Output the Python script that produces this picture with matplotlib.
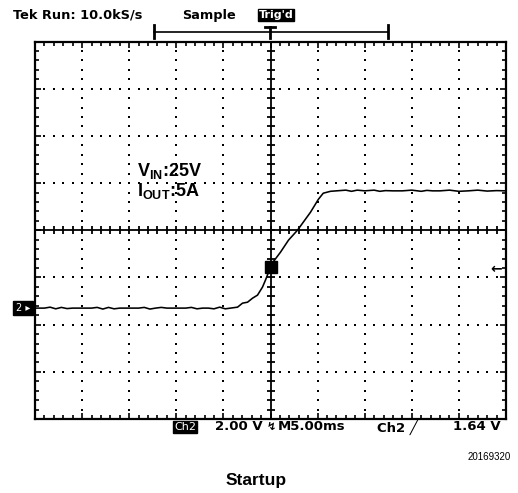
import numpy as np
import matplotlib
matplotlib.use("Agg")
import matplotlib.pyplot as plt
from matplotlib.lines import Line2D

plt.rcParams['font.family'] = ['Liberation Sans', 'DejaVu Sans']
plt.rcParams['mathtext.fontset'] = 'custom'
plt.rcParams['mathtext.bf'] = 'Liberation Sans:bold'
plt.rcParams['mathtext.rm'] = 'Liberation Sans:bold'

# scope settings
ms_per_div = 5.0
v_per_div = 2.0
ground_div = -1.65      # ch2 ground marker, divisions below centre
trig_level = 1.64       # V

# Ch2 trace (time in ms from trigger, volts above ground)
time_ms = [-25.0, -24.0, -23.4, -22.8, -22.2, -21.6, -21.0, -20.0, -19.0, -18.4,
           -17.8, -17.2, -16.6, -16.0, -15.0, -14.0, -13.4, -12.8, -12.2, -11.6,
           -11.0, -10.0, -9.0, -8.4, -7.8, -7.2, -6.6, -6.0, -5.4, -4.8, -4.24,
           -3.5, -2.97, -2.44, -1.91, -1.38, -0.85, -0.53, -0.21, 0.1, 1.06,
           1.91, 2.86, 4.24, 5.08, 5.6, 6.36, 7.0, 8.0, 8.6, 9.2, 10.0, 11.0,
           11.6, 12.2, 13.0, 14.0, 15.0, 16.0, 16.6, 17.2, 18.0, 19.0, 20.0,
           21.0, 22.0, 23.0, 24.0, 25.0]
ch2_v = [0.0, 0.0, 0.04, -0.03, 0.03, -0.02, 0.0, 0.0, 0.0, 0.03,
         -0.04, 0.03, -0.03, 0.0, 0.0, 0.0, 0.03, -0.04, 0.0, 0.03,
         0.0, 0.0, 0.0, 0.03, -0.03, 0.0, 0.0, -0.03, 0.04, -0.03, 0.0,
         0.04, 0.21, 0.25, 0.42, 0.55, 0.89, 1.19, 1.52, 1.86, 2.37,
         2.88, 3.30, 4.06, 4.61, 4.87, 4.95, 4.97, 5.0, 4.95, 5.0, 4.97, 5.0,
         4.95, 4.98, 4.97, 4.97, 5.0, 4.95, 4.99, 4.97, 4.97, 5.0, 4.95,
         4.97, 5.0, 4.96, 4.98, 4.97]
marker_t = 0.0
marker_v = 1.75

W, H = 518, 493
def fx(x):
    return x / W
def fy(y):
    return 1 - y / H

fig = plt.figure(figsize=(W / 100, H / 100), dpi=100)
fig.patch.set_facecolor('white')
ax = fig.add_axes([fx(35), fy(419), (506 - 35) / W, (419 - 41.5) / H])

centre_v = -ground_div * v_per_div
ax.set_xlim(-5 * ms_per_div, 5 * ms_per_div)
ax.set_ylim(centre_v - 4 * v_per_div, centre_v + 4 * v_per_div)

# dotted graticule
xs_fine = np.arange(-25, 25.01, ms_per_div / 5)
ys_fine = centre_v + np.arange(-4, 4.01, 0.2) * v_per_div
for k in [-3, -2, -1, 1, 2, 3]:
    ax.plot(xs_fine, np.full_like(xs_fine, centre_v + k * v_per_div), ls='none',
            marker='s', ms=1.5, color='black', mew=0)
for k in [-4, -3, -2, -1, 1, 2, 3, 4]:
    ax.plot(np.full_like(ys_fine, k * ms_per_div), ys_fine, ls='none',
            marker='s', ms=1.5, color='black', mew=0)

# centre axes with ticks
ax.axhline(centre_v, color='black', lw=1.3)
ax.axvline(0, color='black', lw=1.3)
ax.plot(xs_fine, np.full_like(xs_fine, centre_v), ls='none', marker='|',
        ms=6, mew=1.3, color='black')
ax.plot(np.zeros_like(ys_fine), ys_fine, ls='none', marker='_',
        ms=6, mew=1.3, color='black')

# trace
ax.plot(time_ms, ch2_v, color='black', lw=1.15)
ax.plot([marker_t], [marker_v], marker='s', ms=8.5, color='black')
ax.text(24.6, trig_level, '\u2190', ha='right', va='center', fontsize=10,
        fontweight='bold', family='DejaVu Sans')

# frame ticks
ax.set_xticks(np.arange(-25, 25.01, ms_per_div))
ax.set_xticks(xs_fine, minor=True)
ax.set_yticks(centre_v + np.arange(-4, 4.01, 1) * v_per_div)
ax.set_yticks(ys_fine, minor=True)
ax.tick_params(which='both', direction='in', top=True, right=True,
               labelbottom=False, labelleft=False, width=1.2)
ax.tick_params(which='major', length=4)
ax.tick_params(which='minor', length=3)
for s in ax.spines.values():
    s.set_linewidth(1.6)

ax.text(-14.2, 5.59, 'V$_{\\mathbf{IN}}$:25V', fontsize=13, fontweight='bold',
        va='baseline')
ax.text(-14.2, 4.74, 'I$_{\\mathbf{OUT}}$:5A', fontsize=13, fontweight='bold',
        va='baseline')

# header
scope_font = 'DejaVu Sans'
fig.text(fx(13), fy(15), 'Tek Run: 10.0kS/s', fontsize=9.3, fontweight='bold',
         va='center', family=scope_font)
fig.text(fx(182), fy(15), 'Sample', fontsize=9.3, fontweight='bold',
         va='center', family=scope_font)
fig.text(fx(276), fy(15), "Trig'd", fontsize=8, fontweight='bold', va='center',
         ha='center', color='white', family=scope_font,
         bbox=dict(boxstyle='square,pad=0.1', fc='black', ec='black'))
fig.add_artist(Line2D([fx(154), fx(388)], [fy(32), fy(32)], color='black', lw=1.2))
for xb in [154, 388]:
    fig.add_artist(Line2D([fx(xb), fx(xb)], [fy(25), fy(38)], color='black', lw=2))
fig.add_artist(Line2D([fx(270), fx(270)], [fy(27), fy(38)], color='black', lw=2))
fig.add_artist(Line2D([fx(265), fx(275)], [fy(27), fy(27)], color='black', lw=2))

# ground marker
fig.text(fx(23), fy(308), '2 \u25b8', fontsize=7, color='white', ha='center',
         va='center', family='DejaVu Sans',
         bbox=dict(boxstyle='square,pad=0.25', fc='black', ec='black'))

# footer
fig.text(fx(185), fy(427), 'Ch2', fontsize=8, color='white', ha='center',
         va='center', family=scope_font,
         bbox=dict(boxstyle='square,pad=0.1', fc='black', ec='black'))
fig.text(fx(263), fy(427), '2.00 V', fontsize=9.5, fontweight='bold',
         va='center', ha='right', family=scope_font)
fig.text(fx(267), fy(427), '\u21af', fontsize=8, fontweight='bold', va='center',
         family=scope_font)
fig.text(fx(278), fy(427), 'M5.00ms', fontsize=9.5, fontweight='bold',
         va='center', ha='left', family=scope_font)
fig.text(fx(377), fy(427), 'Ch2 \u2571', fontsize=9.5, fontweight='bold',
         va='center', family=scope_font)
fig.text(fx(501), fy(427), '1.64 V', fontsize=9.5, fontweight='bold',
         va='center', ha='right', family=scope_font)
fig.text(fx(511), fy(457), '20169320', fontsize=7, ha='right', va='center')
fig.text(fx(256), fy(480), 'Startup', fontsize=12.5, fontweight='bold',
         ha='center', va='center')

fig.savefig('out.png', dpi=100)
